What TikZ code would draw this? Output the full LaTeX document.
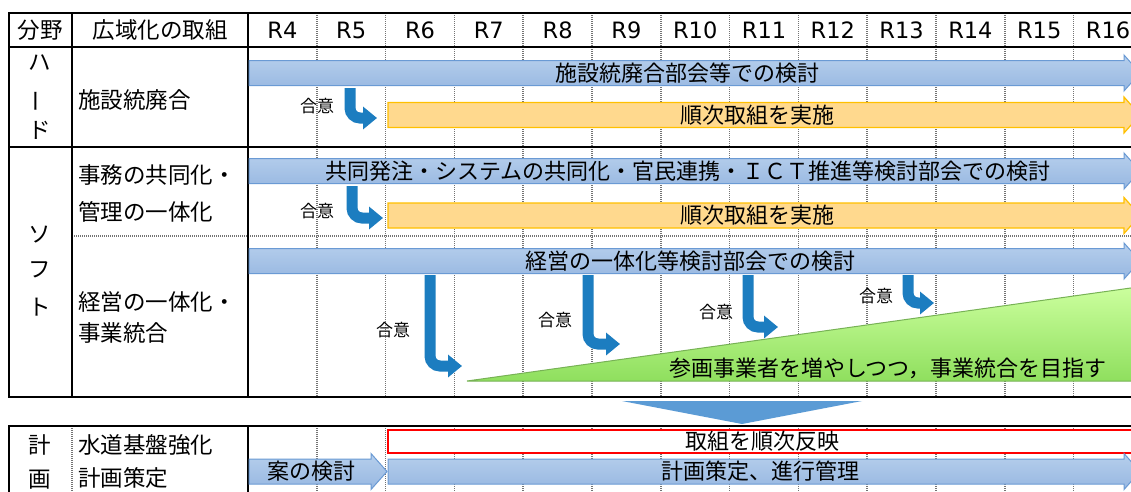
\documentclass[tikz,border=0pt]{standalone}
\usepackage{fontspec}
\setmainfont{Noto Sans CJK JP}
\newfontfamily\yearfont{DejaVu Sans}
\usepackage{tikz}
\usetikzlibrary{positioning,arrows.meta}
\definecolor{barbluetop}{HTML}{B6CFEC}
\definecolor{barbluebot}{HTML}{97B7E1}
\definecolor{barblueedge}{HTML}{6A9AD4}
\definecolor{barorange}{HTML}{FFD98E}
\definecolor{barorangeedge}{HTML}{FFC000}
\definecolor{mergetop}{HTML}{CCFF9E}
\definecolor{mergebot}{HTML}{8FDF5E}
\definecolor{mergeedge}{HTML}{77B255}
\definecolor{agreeblue}{HTML}{1C7DC0}
\definecolor{downblue}{HTML}{5B9BD5}

% block arrow bar: style, x start, x tip, y centre
\newcommand\blockbar[4]{%
  \path[#1] (#2,#4-12.5) -- (#3-16,#4-12.5) -- (#3-16,#4-18) -- (#3,#4)
    -- (#3-16,#4+18) -- (#3-16,#4+12.5) -- (#2,#4+12.5) -- cycle;}

\begin{document}
\begin{tikzpicture}[
  x=1pt, y=-1pt,
  tablerule/.style={draw=black,line width=2pt},
  yeargrid/.style={draw=black!55,line width=1.6pt,dash pattern=on 1pt off 1pt},
  headtext/.style={font=\fontsize{22.5}{26}\selectfont,inner sep=0pt},
  rowtext/.style={headtext,anchor=west},
  yeartext/.style={font=\yearfont\fontsize{22.5}{26}\selectfont,inner sep=0pt},
  bartext/.style={font=\fontsize{22}{26}\selectfont,inner sep=0pt},
  agreetext/.style={font=\fontsize{17}{20}\selectfont,inner sep=0pt},
  bluebar/.style={draw=barblueedge,line width=1pt,top color=barbluetop,bottom color=barbluebot},
  orangebar/.style={draw=barorangeedge,line width=1.2pt,fill=barorange},
  redbox/.style={draw=red,line width=1.5pt,fill=white},
  agreearrow/.style={draw=agreeblue,line width=11pt,rounded corners=10pt,-{Triangle[length=14pt,width=22pt]}}
]
\clip (0,0) rectangle (1131,491);
\fill[white] (0,0) rectangle (1131,491);

% year columns (dotted)
\foreach \i in {1,...,12} {
  \draw[yeargrid] ({248+68.8*\i},13) -- ({248+68.8*\i},397);
  \draw[yeargrid] ({248+68.8*\i},426) -- ({248+68.8*\i},495);
}
\draw[yeargrid] (72,236) -- (1145,236);
\draw[yeargrid] (72,426) -- (72,495);

% table rules
\draw[tablerule] (1145,13) -- (9,13) -- (9,397) -- (1145,397);
\draw[tablerule] (9,47) -- (1145,47);
\draw[tablerule] (9,147) -- (1145,147);
\draw[tablerule] (72,13) -- (72,397);
\draw[tablerule] (248,13) -- (248,397);
\draw[tablerule] (1145,426) -- (9,426) -- (9,495);
\draw[tablerule] (248,426) -- (248,495);

% header
\node[headtext] (field) at (40,30) {分野};
\node[headtext] (effort) at (160,30) {広域化の取組};
\foreach \yr [count=\i from 0] in {4,...,16}
  \node[yeartext] (year\yr) at ({282.4+68.8*\i},30) {R\yr};

% left column
\node[headtext] (hard1) at (40,63) {ハ};
\node[headtext,rotate=90] (hard2) at (40,101) {ー};
\node[headtext] (hard3) at (40,130) {ド};
\node[headtext] (soft1) at (40,235) {ソ};
\node[headtext] (soft2) at (40,270) {フ};
\node[headtext] (soft3) at (40,307) {ト};
\node[headtext] (plan1) at (40,445) {計};
\node[headtext] (plan2) at (40,480) {画};

\node[rowtext] (facility) at (78,100) {施設統廃合};
\node[rowtext] (office1) at (78,175) {事務の共同化・};
\node[rowtext] (office2) at (78,212) {管理の一体化};
\node[rowtext] (manage1) at (78,302) {経営の一体化・};
\node[rowtext] (manage2) at (78,333) {事業統合};
\node[rowtext] (base1) at (78,445) {水道基盤強化};
\node[rowtext] (base2) at (78,478) {計画策定};

% bars
\path[draw=mergeedge,line width=1pt,top color=mergetop,bottom color=mergebot]
  (467,381) -- (1145,286) -- (1145,381) -- cycle;
\blockbar{bluebar}{249}{1140}{73}
\blockbar{orangebar}{388}{1140}{115}
\blockbar{bluebar}{249}{1140}{171}
\blockbar{orangebar}{388}{1140}{215.5}
\blockbar{bluebar}{249}{1140}{261}
\draw[redbox] (388,430) rectangle (1145,453);
\blockbar{bluebar}{388}{1140}{471.5}
\blockbar{bluebar}{249}{387}{471.5}
\fill[downblue] (622,401) -- (862,401) -- (742,424) -- cycle;

\node[bartext] (facilitybar) at (687,73) {施設統廃合部会等での検討};
\node[bartext] (facilitydo) at (757,115) {順次取組を実施};
\node[bartext] (officebar) at (688,171) {共同発注・システムの共同化・官民連携・ＩＣＴ推進等検討部会での検討};
\node[bartext] (officedo) at (757,215.5) {順次取組を実施};
\node[bartext] (managebar) at (690,261) {経営の一体化等検討部会での検討};
\node[bartext] (mergetext) at (888,368) {参画事業者を増やしつつ，事業統合を目指す};
\node[bartext] (reflect) at (762,441) {取組を順次反映};
\node[bartext] (draft) at (311,471.5) {案の検討};
\node[bartext] (planbar) at (760,471.5) {計画策定、進行管理};

% agreement arrows
\foreach \x/\t/\b/\e [count=\n] in {350/88/118/377, 352/186/218/383, 430/275/366/462,
    588/275/344/620, 748/275/327/778, 908/275/303/934}
  \draw[agreearrow] (\x,\t) |- (\e,\b);
\foreach \x/\y [count=\n] in {317/106, 317/211, 393/330, 555/320, 716/312, 876/296}
  \node[agreetext] (agree\n) at (\x,\y) {合意};
\end{tikzpicture}
\end{document}
